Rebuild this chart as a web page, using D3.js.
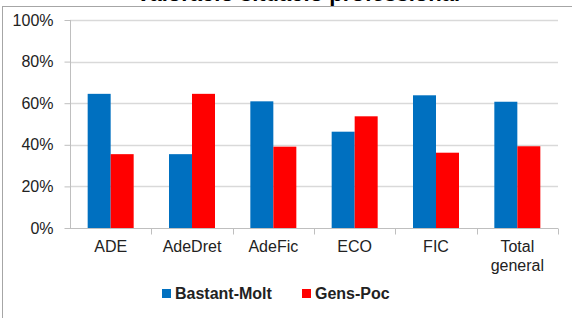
<!DOCTYPE html>
<html>
<head>
<meta charset="utf-8">
<script src="https://cdn.jsdelivr.net/npm/d3@7"></script>
<style>
  body { margin: 0; background: #fff; }
  svg { display: block; font-family: "Liberation Sans", Arial, sans-serif; }
</style>
</head>
<body>
<div id="chart"></div>
<script>
// Chart data
var categories = ["ADE", "AdeDret", "AdeFic", "ECO", "FIC", "Total general"];
var series = ["Bastant-Molt", "Gens-Poc"];
var bastantMolt = [0.645, 0.355, 0.609, 0.463, 0.638, 0.607];
var gensPoc = [0.355, 0.645, 0.391, 0.537, 0.362, 0.393];
var yTicks = [0, 0.2, 0.4, 0.6, 0.8, 1];
var colors = ["#0070C0", "#FF0000"];

var width = 572, height = 318;
var margin = {top: 20, right: 14, bottom: 90, left: 70};

var svg = d3.select("#chart")
    .append("svg")
    .attr("width", width)
    .attr("height", height);

// Title (cut off at the top of the picture, only its lower edge shows)
svg.append("text")
    .attr("x", 298)
    .attr("y", 0.5)
    .attr("text-anchor", "middle")
    .style("font-weight", "bold")
    .style("font-size", "22px")
    .text("Valoració situació professional");

// Chart box
svg.append("rect")
    .attr("x", 2.5)
    .attr("y", 6.5)
    .attr("width", width + 10)
    .attr("height", height)
    .attr("fill", "#fff")
    .attr("stroke", "#a6a6a6");

var x = d3.scaleBand()
    .domain(categories)
    .range([margin.left, width - margin.right]);

var x1 = d3.scaleBand()
    .domain(series)
    .range([0, 46])
    .padding(0);

var y = d3.scaleLinear()
    .domain([0, 1])
    .range([228, margin.top]);

//Gridlines
svg.selectAll(".grid")
    .data(yTicks.slice(1))
    .enter()
    .append("line")
    .attr("x1", margin.left)
    .attr("x2", width - margin.right)
    .attr("y1", d => Math.round(y(d)) + 0.5)
    .attr("y2", d => Math.round(y(d)) + 0.5)
    .attr("stroke", "#d9d9d9")
    .attr("stroke-width", 1.5);

//Bars
var rows = categories.map(function(c, i) {
    return {cat: c, values: [bastantMolt[i], gensPoc[i]]};
});

svg.selectAll(".group")
    .data(rows)
    .enter()
    .append("g")
    .attr("transform", d => "translate(" + (x(d.cat) + x.bandwidth() / 2 - 23) + ",0)")
    .selectAll("rect")
    .data(d => d.values.map((v, j) => ({s: series[j], v: v, j: j})))
    .enter()
    .append("rect")
    .attr("x", d => x1(d.s))
    .attr("width", x1.bandwidth())
    .attr("y", d => y(d.v))
    .attr("height", d => y(0) - y(d.v))
    .attr("fill", d => colors[d.j]);

//Y axis
var yAxis = svg.append("g")
    .attr("transform", "translate(" + (margin.left + 0.5) + ",0)")
    .call(d3.axisLeft(y).tickValues(yTicks).tickFormat(d3.format(".0%")).tickSize(6).tickPadding(11));
yAxis.select(".domain").attr("stroke", "#bfbfbf").attr("d", "M0," + y(1) + "V" + y(0));
yAxis.selectAll(".tick line").attr("stroke", "#bfbfbf");
yAxis.selectAll("text").style("font-size", "16px").attr("fill", "#222");

//X axis
var xAxis = svg.append("g")
    .attr("transform", "translate(0," + (Math.round(y(0)) + 0.5) + ")")
    .call(d3.axisBottom(x).tickSize(0).tickFormat(""));
xAxis.select(".domain").attr("stroke", "#bfbfbf").attr("d", "M" + margin.left + ",0H" + (width - margin.right));
xAxis.selectAll(".sep")
    .data(categories)
    .enter()
    .append("line")
    .attr("x1", d => Math.round(x(d) + x.bandwidth()) + 0.5)
    .attr("x2", d => Math.round(x(d) + x.bandwidth()) + 0.5)
    .attr("y1", 0)
    .attr("y2", 6)
    .attr("stroke", "#bfbfbf");

//Category labels
svg.selectAll(".cat")
    .data(categories)
    .enter()
    .append("text")
    .attr("text-anchor", "middle")
    .attr("x", d => x(d) + x.bandwidth() / 2)
    .attr("y", 252)
    .style("font-size", "16px")
    .attr("fill", "#222")
    .each(function(d) {
        var words = d == "Total general" ? ["Total", "general"] : [d];
        d3.select(this)
            .selectAll("tspan")
            .data(words)
            .enter()
            .append("tspan")
            .attr("x", x(d) + x.bandwidth() / 2)
            .attr("dy", (w, k) => k == 0 ? 0 : 19)
            .text(w => w);
    });

//Legend
var legendX = [162, 302];
var legend = svg.selectAll(".legend")
    .data(series)
    .enter()
    .append("g")
    .attr("transform", (d, i) => "translate(" + legendX[i] + ",289)");
legend.append("rect")
    .attr("width", 9)
    .attr("height", 9)
    .attr("fill", (d, i) => colors[i]);
legend.append("text")
    .attr("x", 13)
    .attr("y", 10)
    .style("font-size", "16px")
    .style("font-weight", "bold")
    .attr("fill", "#222")
    .text(d => d);
</script>
</body>
</html>
